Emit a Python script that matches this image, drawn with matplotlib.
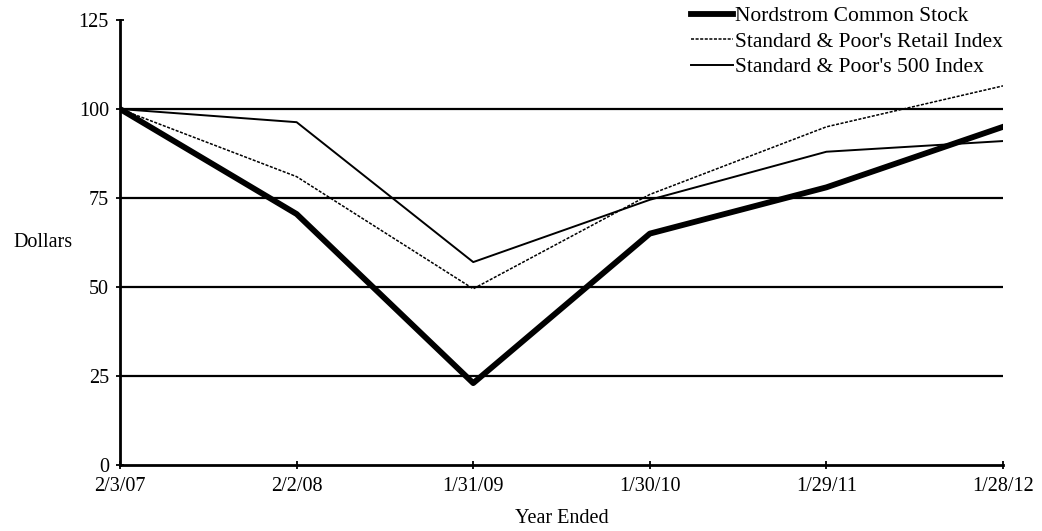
import matplotlib
matplotlib.use("Agg")
import matplotlib.pyplot as plt

# values
dates = ["2/3/07", "2/2/08", "1/31/09", "1/30/10", "1/29/11", "1/28/12"]
nordstrom = [100, 70.5, 23, 65, 78, 95]
sp_retail = [100, 81, 49.5, 76, 95, 106.5]
sp_500 = [100, 96.3, 57, 74.5, 88, 91]
y_ticks = [0, 25, 50, 75, 100, 125]

plt.rcParams['font.family'] = ['Liberation Serif', 'DejaVu Serif']

fig = plt.figure(figsize=(10.42, 5.31), dpi=100)
ax = fig.add_axes([0.1152, 0.1243, 0.8474, 0.838])

x = list(range(len(dates)))

# horizontal rules at every tick except 0 and the top
for v in y_ticks[1:-1]:
    ax.axhline(v, color='black', linewidth=1.6, zorder=1)

ax.plot(x, nordstrom, color='black', linewidth=4.2, label='Nordstrom Common Stock', zorder=3)
ax.plot(x, sp_retail, color='black', linewidth=1.1, linestyle=(0, (2, 1)),
        label="Standard & Poor's Retail Index", zorder=3)
ax.plot(x, sp_500, color='black', linewidth=1.4, label="Standard & Poor's 500 Index", zorder=3)

ax.set_xlim(0, len(dates) - 1)
ax.set_ylim(0, 125)
ax.set_xticks(x)
ax.set_xticklabels(dates)
ax.set_yticks(y_ticks)
ax.tick_params(axis='both', labelsize=14.5, direction='inout', length=6, width=1.3)
ax.tick_params(axis='x', pad=6)
ax.tick_params(axis='y', pad=5)

for side in ['top', 'right']:
    ax.spines[side].set_visible(False)
for side in ['left', 'bottom']:
    ax.spines[side].set_linewidth(2)

ax.set_ylabel("Dollars", fontsize=14.5, rotation=0, labelpad=26, va='center')
ax.set_xlabel("Year Ended", fontsize=14.5, labelpad=9)

leg = ax.legend(loc='upper right', bbox_to_anchor=(1.0125, 1.055), frameon=False, fontsize=15.5,
                handlelength=1.95, handletextpad=0.1, labelspacing=0.25, borderpad=0)

fig.savefig("out.png", dpi=100)
